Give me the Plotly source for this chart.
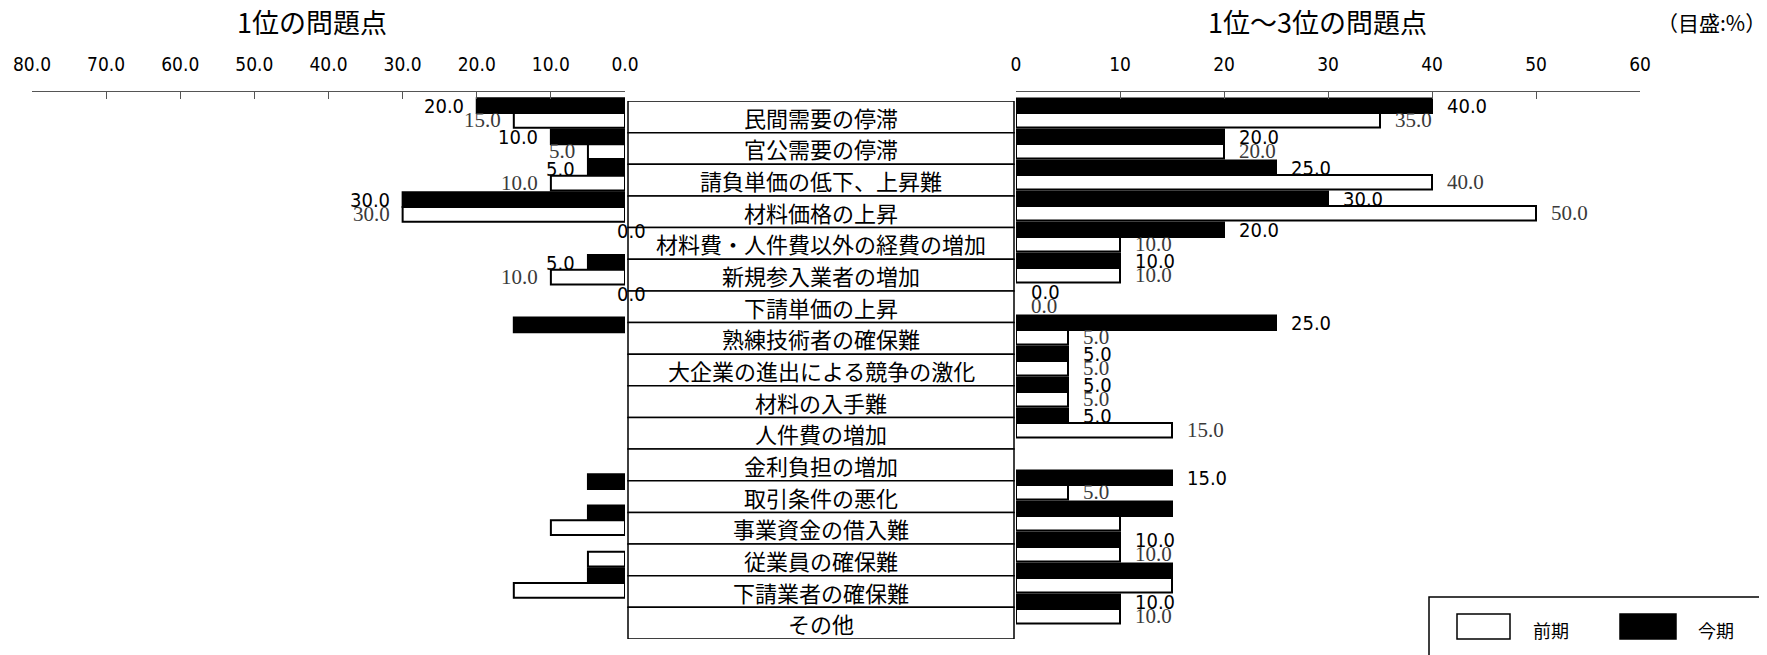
"""Two-sided bar chart of business problems (1位 / 1位～3位)."""

import plotly.graph_objects as go

categories = [
    "民間需要の停滞", "官公需要の停滞", "請負単価の低下、上昇難", "材料価格の上昇",
    "材料費・人件費以外の経費の増加", "新規参入業者の増加", "下請単価の上昇",
    "熟練技術者の確保難", "大企業の進出による競争の激化", "材料の入手難",
    "人件費の増加", "金利負担の増加", "取引条件の悪化", "事業資金の借入難",
    "従業員の確保難", "下請業者の確保難", "その他",
]

# 1位の問題点 (%)
left_now = [20, 10, 5, 30, 0, 5, 0, 15, 0, 0, 0, 0, 5, 5, 0, 5, 0]
left_prev = [15, 5, 10, 30, 0, 10, 0, 0, 0, 0, 0, 0, 0, 10, 5, 15, 0]
# 1位～3位の問題点 (%)
right_now = [40, 20, 25, 30, 20, 10, 0, 25, 5, 5, 5, 0, 15, 15, 10, 15, 10]
right_prev = [35, 20, 40, 50, 10, 10, 0, 5, 5, 5, 15, 0, 5, 10, 10, 15, 10]

# which data labels appear in the original
left_now_shown = [1, 1, 1, 1, 1, 1, 1, 0, 0, 0, 0, 0, 0, 0, 0, 0, 0]
left_prev_shown = [1, 1, 1, 1, 0, 1, 0, 0, 0, 0, 0, 0, 0, 0, 0, 0, 0]
right_now_shown = [1] * 11 + [0, 1, 0, 1, 0, 1]
right_prev_shown = [1] * 11 + [0, 1, 0, 1, 0, 1]

left_ticks = [0, 10, 20, 30, 40, 50, 60, 70, 80]
right_ticks = [0, 10, 20, 30, 40, 50, 60]

W, H = 1767, 655
OFF = 8  # page body margin
SANS = "DejaVu Sans Condensed, Liberation Sans Narrow, Roboto"
SERIF = "Liberation Serif, DejaVu Serif"
JP = "Noto Sans CJK JP"


def px(x):
    return (x - OFF) / W


def py(y):
    return 1 - (y - OFF) / H


def bar(x, name, color, xa, ya):
    # zero-length bars get no outline, as in the original
    return go.Bar(
        x=x, y=categories, orientation="h", name=name,
        marker={"color": color,
                "line": {"color": "black",
                         "width": [2 if v else 0 for v in x]}},
        xaxis=xa, yaxis=ya, showlegend=False, hoverinfo="x+y",
    )


fig = go.Figure()
fig.add_trace(bar(left_now, "今期", "black", "x", "y"))
fig.add_trace(bar(left_prev, "前期", "white", "x", "y"))
fig.add_trace(bar(right_now, "今期", "black", "x2", "y2"))
fig.add_trace(bar(right_prev, "前期", "white", "x2", "y2"))

annotations = []


def add_labels(values, shown, xref, yref, side, now):
    for cat, v, s in zip(categories, values, shown):
        if not s:
            continue
        a = {
            "x": v, "y": cat, "xref": xref, "yref": yref,
            "text": "%.1f" % v, "showarrow": False,
            "yshift": 7 if now else -7,
            "font": {"family": SANS if now else SERIF,
                     "size": 20 if now else 21,
                     "color": "black" if now else "#3a3a3a"},
        }
        if side == "left":
            if v == 0:
                a.update(xanchor="center", xshift=6)
            else:
                a.update(xanchor="right", xshift=-11)
        else:
            a.update(xanchor="left", xshift=13)
        annotations.append(a)


add_labels(left_now, left_now_shown, "x", "y", "left", True)
add_labels(left_prev, left_prev_shown, "x", "y", "left", False)
add_labels(right_now, right_now_shown, "x2", "y2", "right", True)
add_labels(right_prev, right_prev_shown, "x2", "y2", "right", False)

# category boxes in the middle column
shapes = []
for i, cat in enumerate(categories):
    shapes.append({
        "type": "rect", "xref": "x3 domain", "yref": "y3",
        "x0": 0, "x1": 1, "y0": i - 0.5, "y1": i + 0.5,
        "line": {"color": "black", "width": 1.5}, "fillcolor": "white",
        "layer": "below",
    })
    annotations.append({
        "x": 0.5, "y": i, "xref": "x3 domain", "yref": "y3",
        "text": cat, "showarrow": False,
        "font": {"family": JP, "size": 22, "color": "black"},
    })


def paper_text(x, y, text, size):
    return {"x": px(x), "y": py(y), "xref": "paper", "yref": "paper",
            "xanchor": "center", "yanchor": "middle",
            "text": text, "showarrow": False,
            "font": {"family": JP, "size": size, "color": "black"}}


# titles
annotations += [
    paper_text(312, 21, "1位の問題点", 27),
    paper_text(1317, 21, "1位～3位の問題点", 27),
    paper_text(1711, 22, "（目盛:%）", 21),
]

# legend drawn by hand
shapes += [
    {"type": "rect", "xref": "paper", "yref": "paper",
     "x0": px(1429), "x1": px(1766), "y0": -0.05, "y1": py(597),
     "line": {"color": "black", "width": 1.5}, "fillcolor": "white"},
    {"type": "rect", "xref": "paper", "yref": "paper",
     "x0": px(1457), "x1": px(1510), "y0": py(639), "y1": py(614),
     "line": {"color": "black", "width": 1.5}, "fillcolor": "white"},
    {"type": "rect", "xref": "paper", "yref": "paper",
     "x0": px(1620), "x1": px(1676), "y0": py(639), "y1": py(614),
     "line": {"color": "black", "width": 1.5}, "fillcolor": "black"},
]
annotations += [
    paper_text(1551, 630, "前期", 18),
    paper_text(1716, 630, "今期", 18),
]

axis_common = {
    "side": "top", "ticks": "inside", "ticklen": 7, "tickcolor": "#555",
    "showline": True, "linecolor": "#555", "linewidth": 1,
    "showgrid": False, "zeroline": False, "fixedrange": True,
    "automargin": False,
    "tickfont": {"family": SANS, "size": 19, "color": "black"},
    "ticklabelstandoff": 12,
}
yaxis_common = {
    "type": "category", "autorange": "reversed", "showticklabels": False,
    "showgrid": False, "zeroline": False, "showline": False,
    "fixedrange": True, "automargin": False, "domain": [py(630), py(92)],
}

fig.update_layout(
    width=W, height=H,
    margin={"l": 0, "r": 0, "t": 0, "b": 0, "pad": 0},
    plot_bgcolor="white", paper_bgcolor="white",
    barmode="group", bargap=0.06, bargroupgap=0,
    showlegend=False,
    xaxis=dict(axis_common, domain=[px(32), px(625)], range=[80, 0],
               tickvals=left_ticks, tickformat=".1f", anchor="y"),
    yaxis=dict(yaxis_common, anchor="x"),
    xaxis2=dict(axis_common, domain=[px(1016), px(1640)], range=[0, 60],
                tickvals=right_ticks, anchor="y2"),
    yaxis2=dict(yaxis_common, anchor="x2"),
    xaxis3={"domain": [px(628), px(1014)], "range": [0, 1],
            "visible": False, "anchor": "y3", "fixedrange": True},
    yaxis3={"domain": [py(639), py(101)], "range": [16.5, -0.5],
            "visible": False, "anchor": "x3", "fixedrange": True},
    shapes=shapes,
    annotations=annotations,
)

fig.write_html("out.html")
